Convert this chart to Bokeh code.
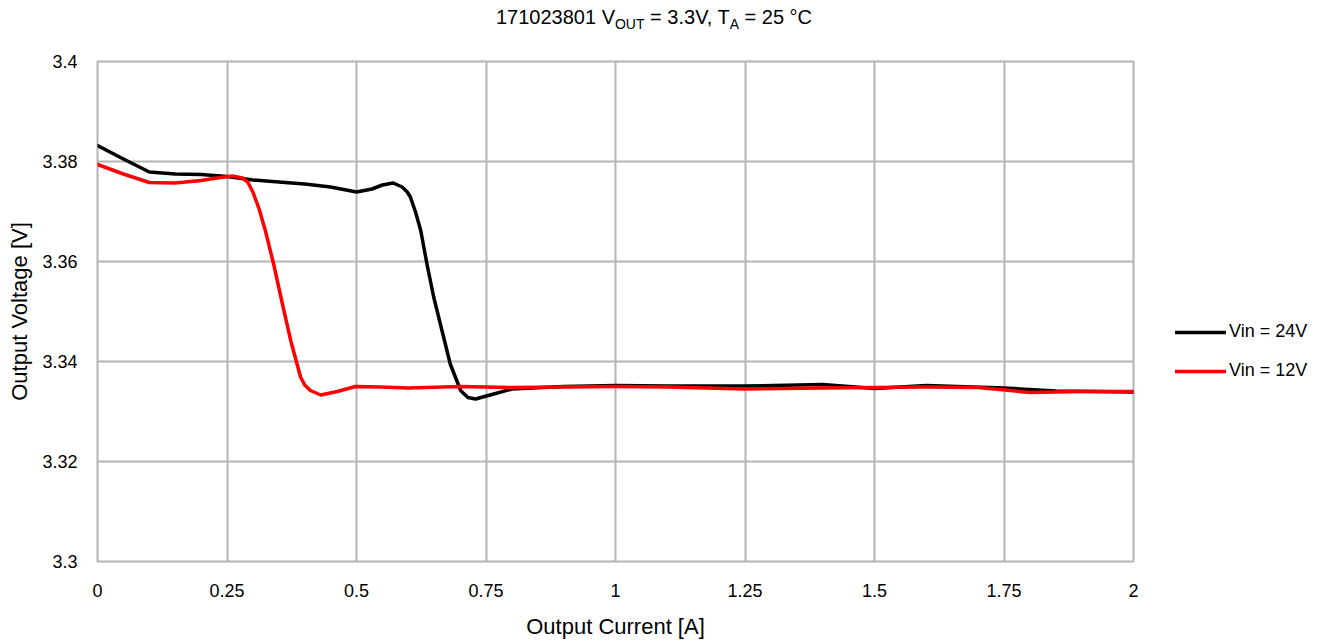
from bokeh.plotting import figure
from bokeh.models import Range1d, FixedTicker, Legend, LegendItem, Div
from bokeh.layouts import column
from bokeh.embed import file_html
from bokeh.resources import INLINE

# ---------------- data ----------------
x_24v = [0, 0.05, 0.1, 0.15, 0.2, 0.25, 0.3, 0.35, 0.4, 0.45, 0.5, 0.53, 0.55, 0.571, 0.588,
         0.598, 0.604, 0.614, 0.624, 0.636, 0.649, 0.665, 0.681, 0.701, 0.715, 0.73, 0.765, 0.8,
         0.9, 1.0, 1.1, 1.25, 1.4, 1.5, 1.6, 1.75, 1.85, 2.0]
v_24v = [3.3832, 3.3805, 3.3779, 3.3775, 3.3774, 3.3770, 3.3763, 3.3759, 3.3755, 3.3749, 3.3739,
         3.3745, 3.3753, 3.3757, 3.3749, 3.3739, 3.3729, 3.3699, 3.3662, 3.3595, 3.3529, 3.3462,
         3.3395, 3.3342, 3.3328, 3.3325, 3.3335, 3.3345, 3.3350, 3.3352, 3.3351, 3.3351, 3.3354,
         3.3346, 3.3352, 3.3347, 3.3341, 3.3339]

x_12v = [0, 0.05, 0.1, 0.15, 0.2, 0.23, 0.26, 0.28, 0.29, 0.3, 0.312, 0.324, 0.34, 0.357, 0.373,
         0.392, 0.40, 0.411, 0.431, 0.463, 0.498, 0.546, 0.6, 0.7, 0.8, 0.9, 1.0, 1.1, 1.25, 1.4,
         1.5, 1.6, 1.7, 1.8, 1.9, 2.0]
v_12v = [3.3794, 3.3775, 3.3758, 3.3757, 3.3762, 3.3767, 3.3771, 3.3767, 3.3759, 3.3739, 3.3705,
         3.3662, 3.3595, 3.3515, 3.3442, 3.3369, 3.3353, 3.3342, 3.3333, 3.3340, 3.3350, 3.3349,
         3.3347, 3.3350, 3.3348, 3.3349, 3.3350, 3.3349, 3.3345, 3.3347, 3.3348, 3.3349, 3.3348,
         3.3338, 3.3340, 3.3340]

x_ticks = [0, 0.25, 0.5, 0.75, 1, 1.25, 1.5, 1.75, 2]
x_tick_labels = ["0", "0.25", "0.5", "0.75", "1", "1.25", "1.5", "1.75", "2"]
y_ticks = [3.3, 3.32, 3.34, 3.36, 3.38, 3.4]
y_tick_labels = ["3.3", "3.32", "3.34", "3.36", "3.38", "3.4"]

series_names = ["Vin = 24V", "Vin = 12V"]
series_colors = ["#000000", "#ff0000"]

FONT = "Liberation Sans"

# ---------------- layout ----------------
W = 1308
DIV_H = 36
FL, FT, FW, FH = 97, 61 - DIV_H, 1036, 500
FB = 78
FR = W - FL - FW

title_html = (
    '<div style="width:%dpx;text-align:center;padding-top:7px;'
    'font-family:\'Liberation Sans\';font-size:20px;line-height:20px;color:#000;white-space:nowrap;">'
    '171023801 V<sub style="font-size:14px;vertical-align:-5px;line-height:0;">OUT</sub>'
    ' = 3.3V, T<sub style="font-size:14px;vertical-align:-5px;line-height:0;">A</sub>'
    ' = 25 \u00b0C</div>' % W
)
title_div = Div(text=title_html, width=W, height=DIV_H, margin=0)

p = figure(frame_width=FW, frame_height=FH, output_backend="svg", toolbar_location=None,
           x_range=Range1d(0, 2), y_range=Range1d(3.3, 3.4),
           min_border_left=FL, min_border_top=FT,
           min_border_right=FR, min_border_bottom=FB, margin=0)

p.outline_line_color = "#b4b4b4"
p.outline_line_width = 2

for ax, ticks, labels in ((p.xaxis[0], x_ticks, x_tick_labels), (p.yaxis[0], y_ticks, y_tick_labels)):
    ax.ticker = FixedTicker(ticks=ticks)
    ax.major_label_overrides = {t: l for t, l in zip(ticks, labels)}
    ax.axis_line_color = None
    ax.major_tick_line_color = None
    ax.minor_tick_line_color = None
    ax.major_tick_out = 0
    ax.major_tick_in = 0
    ax.major_label_text_font = FONT
    ax.major_label_text_font_size = "18px"
    ax.major_label_text_color = "#000000"
    ax.axis_label_text_font = FONT
    ax.axis_label_text_font_size = "22px"
    ax.axis_label_text_font_style = "normal"
    ax.axis_label_text_color = "#000000"

p.xaxis.axis_label = "Output Current [A]"
p.yaxis.axis_label = "Output Voltage [V]"
p.xaxis.major_label_standoff = 22
p.yaxis.major_label_standoff = 20
p.xaxis.axis_label_standoff = 14
p.yaxis.axis_label_standoff = 7

p.xgrid.ticker = FixedTicker(ticks=x_ticks)
p.ygrid.ticker = FixedTicker(ticks=y_ticks)
for g in (p.xgrid[0], p.ygrid[0]):
    g.grid_line_color = "#b4b4b4"
    g.grid_line_width = 2

r24 = p.line(x_24v, v_24v, line_color=series_colors[0], line_width=3.5, line_join="round", line_cap="round")
r12 = p.line(x_12v, v_12v, line_color=series_colors[1], line_width=3.5, line_join="round", line_cap="round")

legend = Legend(items=[LegendItem(label=series_names[0], renderers=[r24]),
                       LegendItem(label=series_names[1], renderers=[r12])],
                location=(42, 180), orientation="vertical",
                glyph_width=51, glyph_height=20, label_height=20, label_standoff=3,
                spacing=18, padding=0, margin=0,
                border_line_color=None, background_fill_alpha=0,
                label_text_font=FONT, label_text_font_size="18px", label_text_color="#000000")
p.add_layout(legend, "right")

layout = column(title_div, p, spacing=0)
open("out.html", "w").write(file_html(layout, INLINE))
